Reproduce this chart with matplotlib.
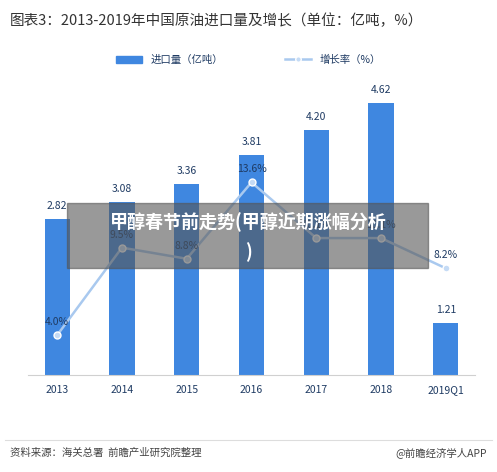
import matplotlib
matplotlib.use("Agg")
import matplotlib.pyplot as plt
from matplotlib.lines import Line2D
from matplotlib.patches import Patch, Rectangle
import numpy as np

plt.rcParams['font.family'] = ['Noto Sans CJK SC', 'DejaVu Sans']

years = ["2013", "2014", "2015", "2016", "2017", "2018", "2019Q1"]
imports = [2.82, 3.08, 3.36, 3.81, 4.20, 4.62, 1.21]
growth = [4.0, 9.5, 8.8, 13.6, 10.1, 10.1, 8.2]

BAR = "#3f87e0"
LINE = "#a9c9ef"
TXT = "#1f3b63"

fig = plt.figure(figsize=(4.97, 4.72), dpi=100)
ax = fig.add_axes([28 / 497, 1 - 375 / 472, 447 / 497, 285 / 472])
x = np.arange(len(years))
ax.bar(x, imports, width=0.39, color=BAR, zorder=2)
for xi, v in zip(x, imports):
    ax.text(xi, v + 0.12, f"{v:.2f}", ha="center", va="bottom", fontsize=7.5, color=TXT)
ax.set_xlim(-0.45, len(years) - 0.55)
ax.set_ylim(0.4, 4.82)
ax.set_yticks([])
ax.set_xticks(x)
ax.set_xticklabels(years, fontsize=7.5, color=TXT)
ax.tick_params(axis="x", length=0, pad=7)
for s in ["top", "right", "left"]:
    ax.spines[s].set_visible(False)
ax.spines["bottom"].set_color("#d0d0d0")

ax2 = ax.twinx()
ax2.plot(x, growth, color=LINE, lw=1.8, marker="o", ms=5,
         markerfacecolor="#c5dbf5", markeredgecolor="white", zorder=3)
for xi, g in zip(x, growth):
    ax2.text(xi, g + 0.5, f"{g:.1f}%", ha="center", va="bottom", fontsize=7.5, color=TXT)
ax2.set_ylim(1.5, 19.4)
ax2.axis("off")

fig.text(0.02, 0.955, "图表3：2013-2019年中国原油进口量及增长（单位：亿吨，%）",
         fontsize=10.5, color="#333333", va="center")
handles = [Patch(color=BAR),
           Line2D([0], [0], color=LINE, lw=1.8, marker="o", ms=4,
                  markerfacecolor="#c5dbf5", markeredgecolor="white")]
fig.legend(handles, ["进口量（亿吨）", "增长率（%）"], loc="center",
           bbox_to_anchor=(0.5, 1 - 60 / 472), ncol=2, frameon=False,
           fontsize=7.5, labelcolor=TXT, columnspacing=6, handlelength=2.5)

fig.patches.append(Rectangle((67 / 497, 1 - 268 / 472), 361 / 497, 65 / 472,
                             transform=fig.transFigure, color="#555555",
                             alpha=0.6, zorder=5))
fig.text(248 / 497, 1 - 222 / 472, "甲醇春节前走势(甲醇近期涨幅分析", ha="center",
         va="center", fontsize=13, color="white", weight="bold", zorder=6)
fig.text(248 / 497, 1 - 252 / 472, ")", ha="center", va="center",
         fontsize=13, color="white", weight="bold", zorder=6)

fig.lines.append(Line2D([0.01, 0.99], [1 - 440 / 472] * 2, transform=fig.transFigure,
                        color="#dddddd", lw=0.8))
fig.text(0.02, 1 - 453 / 472, "资料来源：海关总署  前瞻产业研究院整理", fontsize=7.5,
         color="#444444", style="italic", va="center")
fig.text(0.98, 1 - 453 / 472, "@前瞻经济学人APP", fontsize=7.5, color="#444444",
         ha="right", va="center")

fig.savefig("out.png", dpi=100)
